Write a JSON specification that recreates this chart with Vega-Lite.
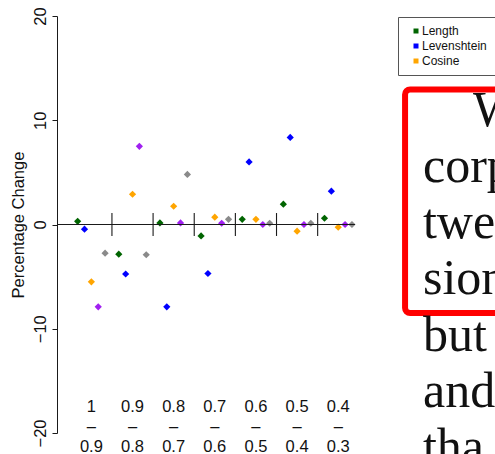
{
  "$schema": "https://vega.github.io/schema/vega-lite/v6.json",
  "width": 298,
  "height": 417,
  "autosize": {"type": "none"},
  "padding": {"left": 57, "top": 16, "right": 140, "bottom": 21},
  "background": "white",
  "config": {"view": {"stroke": null}, "font": "Liberation Sans"},
  "datasets": {
    "changes": [
      {"bin": "1–0.9", "measure": "Length", "change": 0.3},
      {"bin": "1–0.9", "measure": "Levenshtein", "change": -0.45},
      {"bin": "1–0.9", "measure": "Cosine", "change": -5.5},
      {"bin": "1–0.9", "measure": "Jaccard", "change": -7.9},
      {"bin": "1–0.9", "measure": "Combined", "change": -2.75},
      {"bin": "0.9–0.8", "measure": "Length", "change": -2.85},
      {"bin": "0.9–0.8", "measure": "Levenshtein", "change": -4.75},
      {"bin": "0.9–0.8", "measure": "Cosine", "change": 2.9},
      {"bin": "0.9–0.8", "measure": "Jaccard", "change": 7.5},
      {"bin": "0.9–0.8", "measure": "Combined", "change": -2.9},
      {"bin": "0.8–0.7", "measure": "Length", "change": 0.15},
      {"bin": "0.8–0.7", "measure": "Levenshtein", "change": -7.9},
      {"bin": "0.8–0.7", "measure": "Cosine", "change": 1.75},
      {"bin": "0.8–0.7", "measure": "Jaccard", "change": 0.15},
      {"bin": "0.8–0.7", "measure": "Combined", "change": 4.8},
      {"bin": "0.7–0.6", "measure": "Length", "change": -1.1},
      {"bin": "0.7–0.6", "measure": "Levenshtein", "change": -4.7},
      {"bin": "0.7–0.6", "measure": "Cosine", "change": 0.7},
      {"bin": "0.7–0.6", "measure": "Jaccard", "change": 0.12},
      {"bin": "0.7–0.6", "measure": "Combined", "change": 0.5},
      {"bin": "0.6–0.5", "measure": "Length", "change": 0.5},
      {"bin": "0.6–0.5", "measure": "Levenshtein", "change": 6.0},
      {"bin": "0.6–0.5", "measure": "Cosine", "change": 0.5},
      {"bin": "0.6–0.5", "measure": "Jaccard", "change": 0.0},
      {"bin": "0.6–0.5", "measure": "Combined", "change": 0.12},
      {"bin": "0.5–0.4", "measure": "Length", "change": 1.95},
      {"bin": "0.5–0.4", "measure": "Levenshtein", "change": 8.35},
      {"bin": "0.5–0.4", "measure": "Cosine", "change": -0.64},
      {"bin": "0.5–0.4", "measure": "Jaccard", "change": 0.0},
      {"bin": "0.5–0.4", "measure": "Combined", "change": 0.12},
      {"bin": "0.4–0.3", "measure": "Length", "change": 0.6},
      {"bin": "0.4–0.3", "measure": "Levenshtein", "change": 3.2},
      {"bin": "0.4–0.3", "measure": "Cosine", "change": -0.26},
      {"bin": "0.4–0.3", "measure": "Jaccard", "change": 0.0},
      {"bin": "0.4–0.3", "measure": "Combined", "change": 0.0}
    ],
    "bins": [
      {"bin": "1–0.9", "label": "1\n–\n0.9"},
      {"bin": "0.9–0.8", "label": "0.9\n–\n0.8"},
      {"bin": "0.8–0.7", "label": "0.8\n–\n0.7"},
      {"bin": "0.7–0.6", "label": "0.7\n–\n0.6"},
      {"bin": "0.6–0.5", "label": "0.6\n–\n0.5"},
      {"bin": "0.5–0.4", "label": "0.5\n–\n0.4"},
      {"bin": "0.4–0.3", "label": "0.4\n–\n0.3"}
    ],
    "page": [
      {"line": 1, "text": "W"},
      {"line": 2, "text": "corp"},
      {"line": 3, "text": "twe"},
      {"line": 4, "text": "sion"},
      {"line": 5, "text": "but"},
      {"line": 6, "text": "and"},
      {"line": 7, "text": "tha"}
    ],
    "highlight": [{"passage": "highlighted lines 1-4"}]
  },
  "layer": [
    {
      "layer": [
        {
          "data": {"name": "changes"},
          "mark": {"type": "point", "shape": "diamond", "filled": true, "size": 52, "opacity": 1},
          "encoding": {
            "x": {"field": "bin", "type": "nominal", "axis": null,
                  "scale": {"domain": ["1–0.9", "0.9–0.8", "0.8–0.7", "0.7–0.6", "0.6–0.5", "0.5–0.4", "0.4–0.3"], "range": [13.8, 301.8], "paddingInner": 0.166, "paddingOuter": 0.083, "align": 0.5}},
            "xOffset": {"field": "measure", "type": "nominal",
                  "scale": {"domain": ["Length", "Levenshtein", "Cosine", "Jaccard", "Combined"]}},
            "y": {"field": "change", "type": "quantitative",
                  "scale": {"domain": [-20, 20], "nice": false, "zero": false},
                  "axis": {"title": "Percentage Change", "values": [-20, -10, 0, 10, 20], "grid": false,
                           "labelAngle": -90, "labelAlign": "center", "labelBaseline": "bottom",
                           "labelFontSize": 16.5, "labelColor": "#111", "labelPadding": 4,
                           "labelFlush": false, "labelOverlap": false, "labelBound": false,
                           "tickSize": 5, "tickColor": "#1a1a1a", "domainColor": "#1a1a1a",
                           "titleFontSize": 16.5, "titleFontWeight": "normal", "titleColor": "#111", "titlePadding": 6}},
            "color": {"field": "measure", "type": "nominal",
                  "scale": {"domain": ["Length", "Levenshtein", "Cosine", "Jaccard", "Combined"], "range": ["#006400", "#0000ff", "#ffa500", "#a020f0", "#8a8a8a"]},
                  "legend": {"values": ["Length", "Levenshtein", "Cosine"], "orient": "none", "legendX": 341, "legendY": 1,
                             "title": null, "symbolType": "square", "symbolSize": 25, "symbolOpacity": 1, "symbolStrokeWidth": 0,
                             "symbolOffset": 4, "labelFontSize": 12, "labelColor": "#111", "labelOffset": 0,
                             "strokeColor": "#555", "fillColor": "white", "padding": 8, "rowPadding": 3}}
          }
        },
        {
          "data": {"values": [{"reference": "zero"}]},
          "mark": {"type": "rule", "color": "#1a1a1a", "strokeWidth": 1.1},
          "encoding": {
            "y": {"datum": 0, "type": "quantitative"}
          }
        },
        {
          "data": {"name": "bins"},
          "transform": [{"filter": "datum.bin !== '1–0.9'"}],
          "mark": {"type": "rule", "color": "#1a1a1a", "strokeWidth": 1.1},
          "encoding": {
            "x": {"field": "bin", "type": "nominal", "bandPosition": -0.0995, "axis": null,
                  "scale": {"domain": ["1–0.9", "0.9–0.8", "0.8–0.7", "0.7–0.6", "0.6–0.5", "0.5–0.4", "0.4–0.3"], "range": [13.8, 301.8], "paddingInner": 0.166, "paddingOuter": 0.083, "align": 0.5}},
            "y": {"datum": -1.1, "type": "quantitative"},
            "y2": {"datum": 1.1}
          }
        },
        {
          "data": {"name": "bins"},
          "mark": {"type": "text", "lineBreak": "\n", "lineHeight": 20, "fontSize": 16.5, "baseline": "middle", "color": "#111"},
          "encoding": {
            "x": {"field": "bin", "type": "nominal", "axis": null,
                  "scale": {"domain": ["1–0.9", "0.9–0.8", "0.8–0.7", "0.7–0.6", "0.6–0.5", "0.5–0.4", "0.4–0.3"], "range": [13.8, 301.8], "paddingInner": 0.166, "paddingOuter": 0.083, "align": 0.5}},
            "y": {"datum": -17.5, "type": "quantitative"},
            "text": {"field": "label"}
          }
        }
      ]
    },
    {
      "layer": [
        {
          "data": {"name": "highlight"},
          "mark": {"type": "rect", "filled": false, "color": "#ff0000", "stroke": "#ff0000", "strokeWidth": 6, "cornerRadius": 5},
          "encoding": {
            "x": {"datum": 1.168, "type": "quantitative", "axis": null, "scale": {"domain": [0, 1], "nice": false, "zero": false}},
            "x2": {"datum": 1.7},
            "y": {"datum": 0.354, "type": "quantitative", "axis": null, "scale": {"domain": [-0.954, 6.466], "reverse": true, "nice": false, "zero": false}},
            "y2": {"datum": 4.331}
          }
        },
        {
          "data": {"name": "page"},
          "transform": [{"filter": "datum.line == 1"}],
          "mark": {"type": "text", "font": "Liberation Serif", "fontSize": 50, "align": "left", "baseline": "alphabetic", "color": "#111"},
          "encoding": {
            "x": {"datum": 1.396, "type": "quantitative", "axis": null, "scale": {"domain": [0, 1], "nice": false, "zero": false}},
            "y": {"field": "line", "type": "quantitative", "axis": null, "scale": {"domain": [-0.954, 6.466], "reverse": true, "nice": false, "zero": false}},
            "text": {"field": "text"}
          }
        },
        {
          "data": {"name": "page"},
          "transform": [{"filter": "datum.line > 1"}],
          "mark": {"type": "text", "font": "Liberation Serif", "fontSize": 50, "align": "left", "baseline": "alphabetic", "color": "#111"},
          "encoding": {
            "x": {"datum": 1.228, "type": "quantitative", "axis": null, "scale": {"domain": [0, 1], "nice": false, "zero": false}},
            "y": {"field": "line", "type": "quantitative", "axis": null, "scale": {"domain": [-0.954, 6.466], "reverse": true, "nice": false, "zero": false}},
            "text": {"field": "text"}
          }
        }
      ]
    }
  ],
  "resolve": {"scale": {"x": "independent", "y": "independent"}}
}
